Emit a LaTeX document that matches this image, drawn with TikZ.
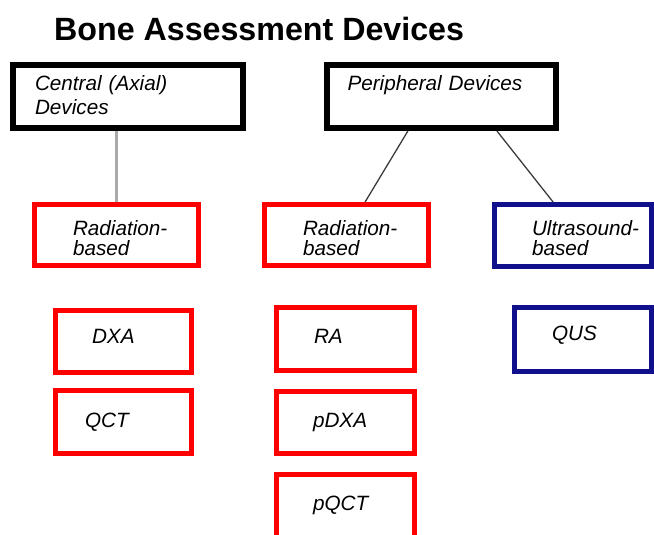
\documentclass[tikz,border=0pt]{standalone}
\usepackage{fontspec}
\setmainfont{Liberation Sans}
\usepackage{xcolor}
\usepackage{tikz}
\usetikzlibrary{positioning,calc}

\definecolor{devred}{RGB}{255,0,0}
\definecolor{devblue}{RGB}{16,16,140}
\definecolor{linkgray}{RGB}{60,60,60}
\definecolor{lightlink}{RGB}{170,170,170}

\tikzset{
  device/.style n args={4}{draw, rectangle, anchor=north west, inner sep=0pt,
    font=\itshape\fontsize{20.7}{20}\selectfont, align=left,
    text width=#1, text height=#2, text depth=#3,
    execute at begin node={\leftskip=#4\relax}},
  group/.style={line width=6pt, draw=black},
  xray/.style={line width=5pt, draw=devred},
  sound/.style={line width=5pt, draw=devblue},
  link/.style={draw=linkgray, line width=1.3pt}
}

\begin{document}
\begin{tikzpicture}[x=1pt,y=-1pt]
\useasboundingbox (0,0) rectangle (654,535);
\clip (0,0) rectangle (654,535);

\node[anchor=base west, inner sep=0pt, font=\bfseries\fontsize{32.2}{36}\selectfont] (Title) at (54,41) {Bone Assessment Devices};

% device groups
\node[device={230pt}{26pt}{37pt}{22pt}, group] (Central) at (10,62) {Central (Axial)\\[4pt]Devices};
\node[device={229pt}{26pt}{37pt}{20.5pt}, group] (Peripheral) at (324,62) {Peripheral Devices};

% kinds
\node[device={164pt}{30.5pt}{30.5pt}{38.5pt}, xray] (CentralRadiation) at (32,202) {Radiation-\\based};
\node[device={164pt}{30.5pt}{30.5pt}{38.5pt}, xray] (PeripheralRadiation) at (262,202) {Radiation-\\based};
\node[device={157pt}{30.5pt}{31.5pt}{37.5pt}, sound] (Ultrasound) at (492,202) {Ultrasound-\\based};

% methods
\node[device={136pt}{32.5pt}{29.5pt}{36.5pt}, xray] (DXA) at (53,308) {DXA};
\node[device={136pt}{36.5pt}{26.5pt}{29.5pt}, xray, below=13pt of DXA] (QCT) {QCT};
\node[device={138pt}{35.5pt}{27.5pt}{37.5pt}, xray] (RA) at (274,305) {RA};
\node[device={138pt}{35.5pt}{26.5pt}{36.5pt}, xray, below=16pt of RA] (pDXA) {pDXA};
\node[device={138pt}{35.5pt}{27.5pt}{36.5pt}, xray, below=16pt of pDXA] (pQCT) {pQCT};
\node[device={137pt}{32.5pt}{31.5pt}{37.5pt}, sound] (QUS) at (512,305) {QUS};

\draw[draw=lightlink, line width=2.4pt] (CentralRadiation.north) -- (CentralRadiation.north |- Central.south);
\draw[link] ($(Peripheral.south west)!0.357!(Peripheral.south east)$) -- ($(PeripheralRadiation.north west)!0.61!(PeripheralRadiation.north east)$);
\draw[link] ($(Peripheral.south west)!0.736!(Peripheral.south east)$) -- ($(Ultrasound.north west)!0.377!(Ultrasound.north east)$);
\end{tikzpicture}
\end{document}
